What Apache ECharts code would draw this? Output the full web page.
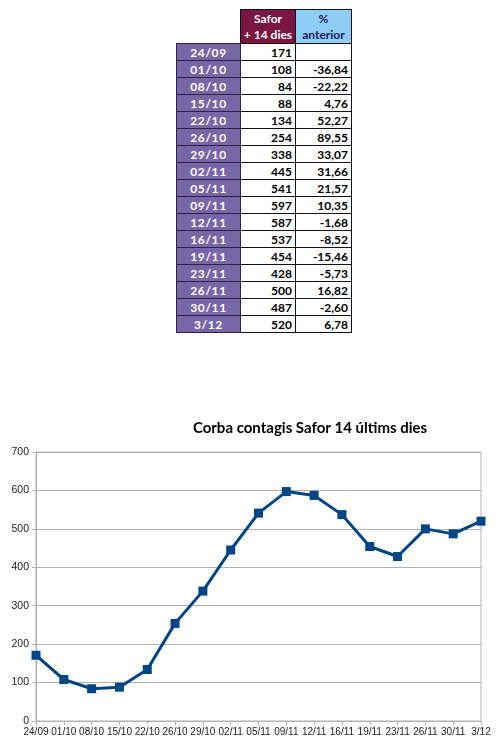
<!DOCTYPE html>
<html><head><meta charset="utf-8">
<script src="https://cdn.jsdelivr.net/npm/echarts@6/dist/echarts.min.js"></script>
<style>
html,body{margin:0;padding:0;background:#fff;width:501px;height:747px;overflow:hidden;}
#tbl{position:absolute;left:176px;top:9px;border-collapse:collapse;font-family:Lato,"Open Sans",sans-serif;font-weight:bold;font-size:12px;table-layout:fixed;width:175px;}
#tbl td{border:1px solid #111;padding:0 3px;line-height:15px;box-sizing:border-box;white-space:nowrap;overflow:hidden;}
#tbl td.d{background:#7767a8;color:#fff;text-align:center;letter-spacing:0.6px;border-color:#2a2244;}
#tbl td.v{text-align:right;color:#000;}
#tbl td.h1{background:#7b1642;color:#fff;text-align:center;line-height:16px;padding:0;}
#tbl td.h2{background:#8ecdf5;color:#1a1a5a;text-align:center;line-height:16px;padding:0;}
#tbl td.e{border:none;background:#fff;}
#chart{position:absolute;left:0;top:380px;width:501px;height:367px;}
</style></head>
<body>
<table id="tbl"></table>
<div id="chart"></div>
<script>
var dates = ['24/09','01/10','08/10','15/10','22/10','26/10','29/10','02/11','05/11','09/11','12/11','16/11','19/11','23/11','26/11','30/11','3/12'];
var cases = [171,108,84,88,134,254,338,445,541,597,587,537,454,428,500,487,520];
var pctPrev = ['','-36,84','-22,22','4,76','52,27','89,55','33,07','31,66','21,57','10,35','-1,68','-8,52','-15,46','-5,73','16,82','-2,60','6,78'];
var headers = ['Safor<br>+ 14 dies','%<br>anterior'];
var yTicks = [0,100,200,300,400,500,600,700];
var title = 'Corba contagis Safor 14 últims dies';

// table
var html = '<colgroup><col style="width:64px"><col style="width:55px"><col style="width:56px"></colgroup>';
html += '<tr style="height:34px"><td class="e"></td><td class="h1">'+headers[0]+'</td><td class="h2">'+headers[1]+'</td></tr>';
for (var i=0;i<dates.length;i++){
  html += '<tr style="height:17px"><td class="d">'+dates[i]+'</td><td class="v">'+cases[i]+'</td><td class="v">'+pctPrev[i]+'</td></tr>';
}
document.getElementById('tbl').innerHTML = html;

var chart = echarts.init(document.getElementById('chart'));
chart.setOption({
  animation:false,
  title:{text:title,left:305,top:36,textAlign:'center',textStyle:{fontFamily:'Lato',fontWeight:'bold',fontSize:15,color:'#000'}},
  grid:{left:36,right:20,top:72,bottom:26,show:true,borderColor:'#b3b3b3',borderWidth:1},
  xAxis:{type:'category',data:dates,boundaryGap:false,
    axisLine:{lineStyle:{color:'#b3b3b3'}},
    axisTick:{show:true,length:4,lineStyle:{color:'#b3b3b3'}},
    axisLabel:{interval:0,fontFamily:'Liberation Sans',fontSize:10,color:'#222',margin:6},
    splitLine:{show:false}},
  yAxis:{type:'value',min:yTicks[0],max:yTicks[yTicks.length-1],interval:100,
    axisLine:{show:true,lineStyle:{color:'#b3b3b3'}},
    axisTick:{show:true,length:4,lineStyle:{color:'#b3b3b3'}},
    axisLabel:{fontFamily:'Liberation Sans',fontSize:10.5,color:'#222',margin:7},
    splitLine:{lineStyle:{color:'#b3b3b3'}}},
  series:[{type:'line',data:cases,symbol:'rect',symbolSize:9,
    lineStyle:{color:'#004586',width:3},itemStyle:{color:'#004586'}}]
});
</script>
</body></html>
